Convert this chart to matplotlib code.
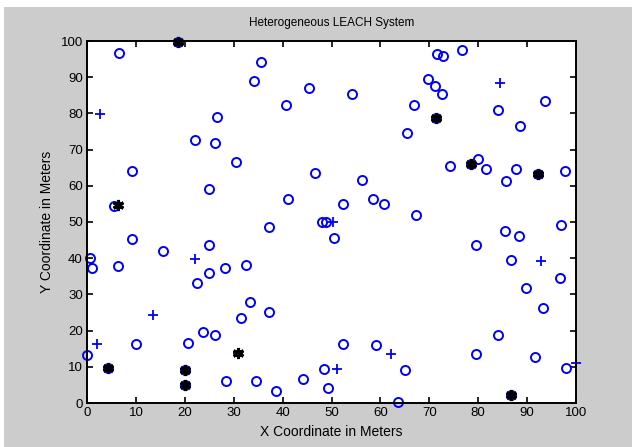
import matplotlib
matplotlib.use("Agg")
import matplotlib.pyplot as plt
from matplotlib.patches import Rectangle

# normal nodes (blue circles)
NORMAL_X = [6.6, 35.6, 34.2, 45.3, 54.2, 40.7, 26.6, 22.0, 26.2, 30.4, 9.3, 46.7,
            56.3, 25.0, 41.1, 58.5, 60.7, 52.4, 5.5, 67.3, 48.1, 48.8, 37.3, 50.5,
            9.2, 15.5, 25.0, 0.7, 1.1, 6.3, 28.3, 32.5, 25.0, 22.4, 33.3, 37.3,
            31.5, 23.7, 26.1, 10.1, 20.6, 0.0, 28.5, 34.5, 38.6, 44.2, 48.5, 49.3,
            52.3, 59.2, 65.0, 63.5, 65.4, 66.9, 69.8, 71.1, 72.5, 71.6, 72.8, 76.7,
            74.2, 80.0, 81.5, 84.1, 88.5, 93.7, 85.6, 87.7, 97.7, 96.9, 85.4, 88.3,
            79.6, 86.8, 96.7, 89.8, 93.3, 84.1, 79.6, 91.6, 97.9,
            18.6, 71.3, 78.6, 92.3, 4.2, 20.0, 20.1, 86.8]
NORMAL_Y = [96.8, 94.3, 88.9, 86.9, 85.3, 82.2, 78.9, 72.7, 71.9, 66.6, 64.0, 63.4,
            61.6, 59.0, 56.4, 56.4, 54.9, 54.9, 54.5, 51.9, 49.9, 49.9, 48.7, 45.5,
            45.3, 42.0, 43.7, 40.1, 37.3, 37.9, 37.3, 38.2, 35.9, 33.2, 27.9, 25.2,
            23.5, 19.7, 18.9, 16.3, 16.5, 13.2, 6.2, 6.2, 3.2, 6.7, 9.4, 4.2,
            16.4, 15.9, 9.0, 0.3, 74.6, 82.4, 89.5, 87.7, 85.3, 96.3, 95.8, 97.4,
            65.4, 67.3, 64.6, 81.0, 76.5, 83.5, 61.4, 64.6, 64.0, 49.1, 47.6, 46.1,
            43.7, 39.4, 34.4, 31.7, 26.2, 18.9, 13.6, 12.7, 9.7,
            99.7, 78.6, 65.9, 63.3, 9.7, 9.0, 4.9, 2.3]

# advanced nodes (blue pluses)
ADV_X = [2.6, 22.0, 13.4, 2.1, 51.2, 62.2, 84.5, 92.8, 100.0, 50.3, 30.8]
ADV_Y = [79.8, 39.9, 24.4, 16.2, 9.4, 13.5, 88.3, 39.2, 11.1, 49.9, 13.9]

# cluster heads (black)
CH_X = [18.6, 6.3, 71.3, 78.6, 92.3, 4.2, 20.0, 20.1, 30.8, 86.8]
CH_Y = [99.7, 54.8, 78.6, 65.9, 63.3, 9.7, 9.0, 4.9, 13.9, 2.3]

plt.rcParams["font.family"] = ["Liberation Sans", "DejaVu Sans"]

fig = plt.figure(figsize=(6.32, 4.47), dpi=100, facecolor="white")
fig.patches.append(Rectangle((4 / 632, 0), 1, 1 - 7 / 447, transform=fig.transFigure,
                             facecolor="#cccccc", edgecolor="none", zorder=-10))

ax = fig.add_axes([87 / 632, 1 - 403 / 447, (576 - 87) / 632, (403 - 41) / 447])
ax.set_facecolor("white")

ax.plot(NORMAL_X, NORMAL_Y, "o", color="none", markeredgecolor="#0000ff",
        markersize=6.5, markeredgewidth=1.4, clip_on=False)
ax.plot(ADV_X, ADV_Y, "+", color="#0000ff", markersize=7, markeredgewidth=1.3,
        clip_on=False)
ax.plot(CH_X, CH_Y, "o", color="black", markersize=4.5, clip_on=False)
ax.plot(CH_X, CH_Y, marker=(6, 2, 0), linestyle="none", color="black",
        markersize=8, markeredgewidth=2.2, clip_on=False)

ax.set_xlim(0, 100)
ax.set_ylim(0, 100)
ax.set_xticks(range(0, 101, 10))
ax.set_yticks(range(0, 101, 10))
ax.tick_params(direction="in", top=True, right=True, length=4, width=1.2,
               labelsize=9.5, pad=3)
for s in ax.spines.values():
    s.set_linewidth(1.4)

ax.set_title("Heterogeneous LEACH System", fontsize=8.5, pad=11)
ax.set_xlabel("X Coordinate in Meters", fontsize=10, labelpad=4)
ax.set_ylabel("Y Coordinate in Meters", fontsize=10, labelpad=5)

fig.savefig("out.png", dpi=100, facecolor=fig.get_facecolor())
